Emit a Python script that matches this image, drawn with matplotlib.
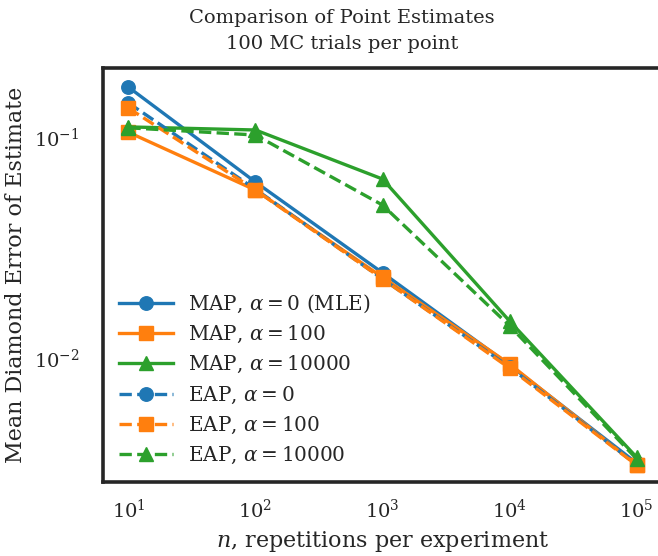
import matplotlib
matplotlib.use("Agg")
import matplotlib.pyplot as plt

# ---- data ----
n_values = [10, 100, 1000, 10000, 100000]
map_alpha0 = [0.168, 0.0625, 0.0243, 0.0093, 0.00335]
map_alpha100 = [0.105, 0.0575, 0.0232, 0.0094, 0.00328]
map_alpha10000 = [0.111, 0.1075, 0.0645, 0.0147, 0.00356]
eap_alpha0 = [0.1425, 0.058, 0.0228, 0.0091, 0.0033]
eap_alpha100 = [0.135, 0.0575, 0.0228, 0.0090, 0.00328]
eap_alpha10000 = [0.110, 0.102, 0.0492, 0.0140, 0.0035]

labels = [
    r"MAP, $\alpha = 0$ (MLE)",
    r"MAP, $\alpha = 100$",
    r"MAP, $\alpha = 10000$",
    r"EAP, $\alpha = 0$",
    r"EAP, $\alpha = 100$",
    r"EAP, $\alpha = 10000$",
]
title_text = "Comparison of Point Estimates\n100 MC trials per point"
xlabel_text = r"$n$, repetitions per experiment"
ylabel_text = "Mean Diamond Error of Estimate"

# ---- style ----
plt.rcParams.update({
    "font.family": ["DejaVu Serif"],
    "mathtext.fontset": "dejavuserif",
    "text.color": "0.15",
    "axes.labelcolor": "0.15",
    "xtick.color": "0.15",
    "ytick.color": "0.15",
    "axes.edgecolor": "0.15",
    "axes.linewidth": 2.6,
})

fig = plt.figure(figsize=(6.58, 5.56), dpi=100)
ax = fig.add_axes([103 / 658, 1 - 482 / 556, (662 - 103) / 658, (482 - 68) / 556])

c_blue, c_orange, c_green = "#1f77b4", "#ff7f0e", "#2ca02c"
lw, ms = 2.4, 9.7
series = [
    (map_alpha0, c_blue, "o", "-"),
    (map_alpha100, c_orange, "s", "-"),
    (map_alpha10000, c_green, "^", "-"),
    (eap_alpha0, c_blue, "o", "--"),
    (eap_alpha100, c_orange, "s", "--"),
    (eap_alpha10000, c_green, "^", "--"),
]
for (vals, col, mk, ls), lab in zip(series, labels):
    ax.plot(n_values, vals, color=col, marker=mk, linestyle=ls,
            linewidth=lw, markersize=ms, label=lab)

ax.set_xscale("log")
ax.set_yscale("log")
ax.set_xlim(10 ** 0.8, 10 ** 5.2)
ax.set_ylim(0.00275, 0.205)

ax.tick_params(axis="both", which="both", length=0, labelsize=14)
ax.tick_params(axis="x", pad=12)
ax.tick_params(axis="y", pad=17)
ax.tick_params(axis="y", which="minor", labelleft=False)
ax.tick_params(axis="x", which="minor", labelbottom=False)

ax.set_xlabel(xlabel_text, fontsize=16, labelpad=5)
ax.set_ylabel(ylabel_text, fontsize=16, labelpad=5)

fig.suptitle(title_text, x=342 / 658, y=1 - 9 / 556, va="top",
             fontsize=14, linespacing=1.55)

leg = ax.legend(loc="lower left", frameon=False, fontsize=14.4,
                handlelength=2.7, handletextpad=0.75, labelspacing=0.45,
                borderaxespad=0.4)

fig.savefig("out.png", dpi=100)
